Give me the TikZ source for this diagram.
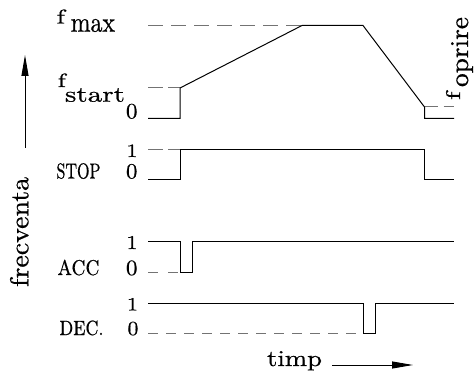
\documentclass[tikz,border=0pt]{standalone}
\usepackage{graphicx}
\usepackage{fontspec}
\setmainfont{Latin Modern Roman}[FakeBold=0.6]
\usetikzlibrary{arrows.meta}

% scale a label to a given width and height (in pt)
\newcommand\fitto[3]{\resizebox{#1pt}{#2pt}{#3}}

\begin{document}
\begin{tikzpicture}[x=1pt,y=-1pt,
  sig/.style={line width=1pt,black,line join=miter},
  guide/.style={line width=1pt,black!55,dash pattern=on 11pt off 7pt},
  lbl/.style={anchor=base west,inner sep=0pt,outer sep=0pt},
  axis/.style={line width=1pt,-{Triangle[length=21pt,width=7pt]}}]
\useasboundingbox (0,0) rectangle (474,371);

% ---- frequency profile ----
\draw[guide,dash pattern=on 15pt off 8pt] (148,25.5) -- (302,25.5);
\draw[guide,dash pattern=on 15pt off 5pt] (148,88) -- (180,88);
\draw[guide,dash pattern=on 13pt off 6pt] (424.5,107) -- (454,107);
\draw[sig] (148,118.3) -- (180,118.3) -- (180,88) -- (302,25.5) -- (363,25.5)
           -- (424.5,107) -- (424.5,118.3) -- (454,118.3);

% ---- STOP ----
\draw[guide,dash pattern=on 15pt off 5pt] (148,150) -- (180,150);
\draw[sig] (148,180) -- (180,180) -- (180,150) -- (424.5,150) -- (424.5,180) -- (454,180);

% ---- ACC ----
\draw[guide,dash pattern=on 10pt off 10pt] (148,273) -- (180,273);
\draw[sig] (148,242) -- (180,242) -- (180,273) -- (192,273) -- (192,242) -- (454,242);

% ---- DEC. ----
\draw[guide,dash pattern=on 10pt off 8pt] (148,334) -- (363,334);
\draw[sig] (148,304) -- (363,304) -- (363,334) -- (375,334) -- (375,304) -- (454,304);

% ---- level labels ----
\node[lbl] (fmaxf) at (56.5,23.5) {\fitto{8.5}{14}{f}};
\node[lbl] (fmaxs) at (70.7,31.7) {\fitto{44.3}{12.7}{max}};
\node[lbl] (fstartf) at (57.8,87) {\fitto{8}{13.5}{f}};
\node[lbl] (fstarts) at (65,101.7) {\fitto{60}{13.6}{start}};
\node[lbl] (fzero) at (126,118.3) {\fitto{11.5}{14.5}{0}};

\node[lbl] (stopone) at (126.5,157) {\fitto{11}{12.5}{1}};
\node[lbl] (stop) at (56.5,178.5) {\fitto{44}{15.3}{STOP}};
\node[lbl] (stopzero) at (126,178.3) {\fitto{11.5}{14.3}{0}};

\node[lbl] (accone) at (126.5,249) {\fitto{11}{13}{1}};
\node[lbl] (acc) at (57.5,275) {\fitto{42}{15.3}{ACC}};
\node[lbl] (acczero) at (126,275) {\fitto{11.5}{14.5}{0}};

\node[lbl] (decone) at (127,310.5) {\fitto{11}{12.5}{1}};
\node[lbl] (dec) at (59.5,335) {\fitto{44}{14.5}{DEC.}};
\node[lbl] (deczero) at (127.5,335) {\fitto{11}{13.3}{0}};

% stop frequency, written upwards
\node[lbl,rotate=90] (fopf) at (460,100) {\fitto{8.5}{14}{f}};
\node[lbl,rotate=90] (fops) at (468,87) {\fitto{70}{17}{oprire}};

% ---- axes ----
\coordinate (vb) at (25,148);
\coordinate (vt) at (25,55);
\draw[axis] (vb) -- (vt);
\node[lbl,rotate=90] (freq) at (28.3,287) {\fitto{110}{18.3}{frecventa}};

\node[lbl] (timp) at (267,366) {\fitto{55}{15}{timp}};
\coordinate (hl) at (332,365);
\coordinate (hr) at (413,365);
\draw[axis] (hl) -- (hr);
\end{tikzpicture}
\end{document}
